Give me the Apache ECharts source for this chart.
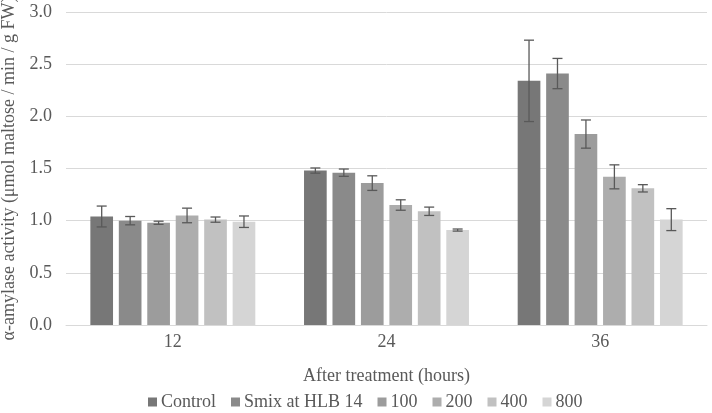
<!DOCTYPE html>
<html>
<head>
<meta charset="utf-8">
<script src="https://cdn.jsdelivr.net/npm/echarts@6/dist/echarts.min.js"></script>
<style>html,body{margin:0;padding:0;background:#fff}#c{width:712px;height:413px}</style>
</head>
<body>
<div id="c"></div>
<script>
var categories = ['12', '24', '36'];
var seriesNames = ['Control', 'Smix at HLB 14', '100', '200', '400', '800'];
var control = [1.04, 1.48, 2.34];
var smix = [1.00, 1.46, 2.41];
var c100 = [0.98, 1.36, 1.83];
var c200 = [1.05, 1.15, 1.42];
var c400 = [1.01, 1.09, 1.31];
var c800 = [0.99, 0.91, 1.01];
var errControl = [0.10, 0.025, 0.39];
var errSmix = [0.04, 0.035, 0.145];
var err100 = [0.015, 0.07, 0.135];
var err200 = [0.07, 0.05, 0.115];
var err400 = [0.025, 0.04, 0.035];
var err800 = [0.055, 0.01, 0.105];
var yTicks = ['0.0', '0.5', '1.0', '1.5', '2.0', '2.5', '3.0'];

var values = [control, smix, c100, c200, c400, c800];
var errors = [errControl, errSmix, err100, err200, err400, err800];
var colors = ['#777777', '#8a8a8a', '#9c9c9c', '#adadad', '#c1c1c1', '#d5d5d5'];
var FONT = '"Liberation Serif", "DejaVu Serif", serif';
var CAT_GAP = 0.228, BAR_GAP = 0.255;
var n = values.length;

var series = [];
values.forEach(function (vals, i) {
  series.push({
    name: seriesNames[i], type: 'bar', data: vals,
    itemStyle: { color: colors[i] },
    barGap: (BAR_GAP * 100) + '%', barCategoryGap: (CAT_GAP * 100) + '%'
  });
});
values.forEach(function (vals, i) {
  series.push({
    type: 'custom', name: seriesNames[i] + ' err', silent: true, z: 5,
    data: vals.map(function (v, j) { return [j, v, errors[i][j]]; }),
    renderItem: function (params, api) {
      var band = api.size([1, 0])[0];
      var bw = band * (1 - CAT_GAP) / (n + (n - 1) * BAR_GAP);
      var start = -band * (1 - CAT_GAP) / 2;
      var off = start + i * bw * (1 + BAR_GAP) + bw / 2;
      var v = api.value(1), e = api.value(2);
      var top = api.coord([api.value(0), v + e]);
      var bot = api.coord([api.value(0), v - e]);
      var x = top[0] + off;
      var cap = 5;
      var st = { stroke: '#595959', lineWidth: 1.3 };
      return { type: 'group', children: [
        { type: 'line', shape: { x1: x, y1: top[1], x2: x, y2: bot[1] }, style: st },
        { type: 'line', shape: { x1: x - cap, y1: top[1], x2: x + cap, y2: top[1] }, style: st },
        { type: 'line', shape: { x1: x - cap, y1: bot[1], x2: x + cap, y2: bot[1] }, style: st }
      ]};
    }
  });
});

var chart = echarts.init(document.getElementById('c'));
chart.setOption({
  animation: false,
  textStyle: { fontFamily: FONT },
  grid: { left: 66, right: 5, top: 12, bottom: 88, containLabel: false, outerBoundsMode: 'none' },
  legend: {
    data: seriesNames, left: 143, bottom: -3,
    itemWidth: 9, itemHeight: 9, itemGap: 15,
    icon: 'rect',
    textStyle: { fontFamily: FONT, fontSize: 18, color: '#595959', padding: [0, 0, 0, -1] }
  },
  xAxis: {
    type: 'category', data: categories,
    name: 'After treatment (hours)', nameLocation: 'middle', nameGap: 42,
    nameTextStyle: { fontFamily: FONT, fontSize: 18, color: '#595959' },
    axisLine: { lineStyle: { color: '#d9d9d9', width: 1 } },
    axisTick: { show: false },
    axisLabel: { fontFamily: FONT, fontSize: 18, color: '#595959', margin: 8 }
  },
  yAxis: {
    type: 'value', min: 0, max: 3, interval: 0.5,
    name: 'α-amylase activity (μmol maltose / min / g FW)', nameLocation: 'middle', nameGap: 44,
    nameTextStyle: { fontFamily: FONT, fontSize: 18, color: '#595959' },
    axisLine: { show: false }, axisTick: { show: false },
    splitLine: { lineStyle: { color: '#d9d9d9', width: 1 } },
    axisLabel: { fontFamily: FONT, fontSize: 18, color: '#595959', margin: 14,
      formatter: function (v) { return yTicks[Math.round(v / 0.5)]; } }
  },
  series: series
});
</script>
</body>
</html>
